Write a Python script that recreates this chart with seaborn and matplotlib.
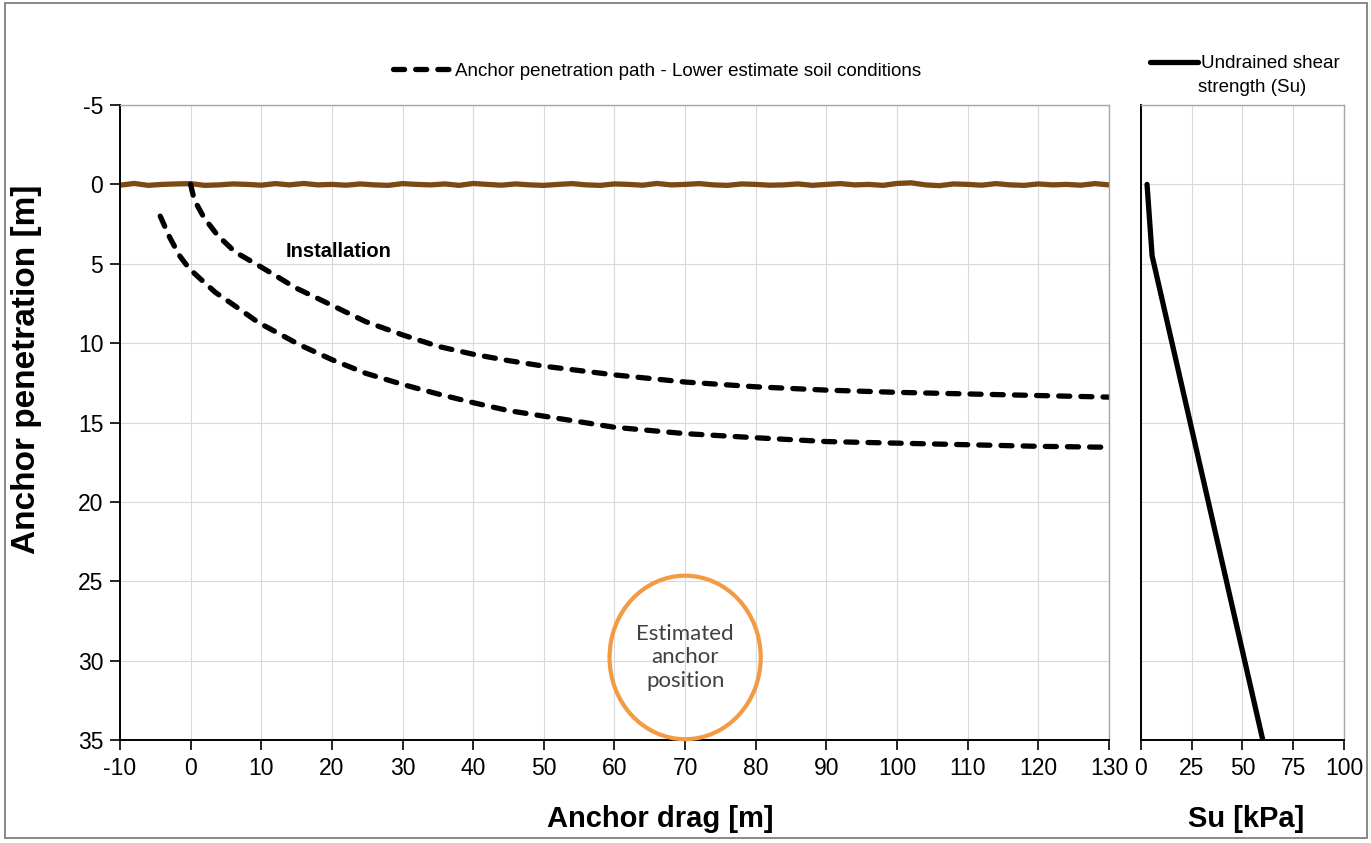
import numpy as np
import pandas as pd
import matplotlib
matplotlib.use("Agg")
import matplotlib.pyplot as plt
from matplotlib.patches import Ellipse, Rectangle
from matplotlib.lines import Line2D
import seaborn as sns

# anchor penetration path (upper curve)
path1_drag = [0, 0.5, 1.9, 3.8, 6.3, 9.2, 12, 14.8, 19, 24.8, 30, 35, 40, 45, 50,
              60, 70, 80, 90, 100, 110, 120, 130]
path1_depth = [0, 0.96, 2.1, 3.2, 4.26, 5.0, 5.74, 6.5, 7.4, 8.65, 9.48, 10.2, 10.7, 11.1, 11.45,
               12.0, 12.45, 12.75, 12.96, 13.1, 13.2, 13.3, 13.4]

# anchor penetration path (lower curve)
path2_drag = [-4.3, -3, -1.6, -0.2, 1.4, 3.5, 6.3, 9.6, 15.4, 20, 24.8, 30, 35, 40, 45, 50,
              60, 70, 80, 90, 100, 110, 120, 130]
path2_depth = [2.0, 3.3, 4.47, 5.3, 5.96, 6.8, 7.66, 8.7, 10.1, 11.04, 11.9, 12.6, 13.2, 13.75, 14.25, 14.6,
               15.3, 15.7, 15.96, 16.2, 16.3, 16.4, 16.5, 16.56]

# seabed line (wavy, around 0 m)
seabed_drag = list(range(-10, 131, 2))
seabed_depth = [0.05, -0.06, 0.06, 0.0, -0.03, -0.05, 0.06, 0.03, -0.03, 0.0, 0.05, -0.05, 0.03,
                -0.06, 0.03, 0.0, 0.05, -0.03, 0.03, 0.06, -0.05, 0.0, 0.03, -0.03, 0.06, -0.06,
                0.0, 0.05, -0.03, 0.03, 0.06, 0.0, -0.05, 0.03, 0.06, -0.03, 0.0, 0.05, -0.06,
                0.03, 0.0, -0.05, 0.03, 0.06, -0.03, 0.0, 0.05, 0.03, -0.03, 0.06, 0.0, -0.05,
                0.03, 0.0, 0.06, -0.06, -0.1, 0.03, 0.08, -0.03, 0.0, 0.05, -0.05, 0.03, 0.06,
                -0.03, 0.03, 0.0, 0.05, -0.05, 0.03]

# undrained shear strength profile
su_kpa = [3, 5.5, 60]
su_depth = [0, 4.5, 35]

drag_ticks = list(range(-10, 131, 10))
depth_ticks = list(range(-5, 36, 5))
su_ticks = [0, 25, 50, 75, 100]

sns.set_style("whitegrid", {"grid.color": "#D9D9D9", "axes.edgecolor": "#A6A6A6",
                            "text.color": "black", "axes.labelcolor": "black",
                            "xtick.color": "black", "ytick.color": "black"})
plt.rcParams["font.family"] = ["Liberation Sans", "DejaVu Sans"]
plt.rcParams["axes.unicode_minus"] = False

fig = plt.figure(figsize=(13.71, 8.43), dpi=100)
ax = fig.add_axes([0.0875, 0.1222, 0.7214, 0.7532])
ax2 = fig.add_axes([0.8322, 0.1222, 0.1481, 0.7532])

dash = (2.1, 2.1)
sns.lineplot(x=seabed_drag, y=seabed_depth, ax=ax, color="#7B4A14", lw=3.8, sort=False)
sns.lineplot(x=path1_drag, y=path1_depth, ax=ax, color="black", lw=3.8, sort=False)
sns.lineplot(x=path2_drag, y=path2_depth, ax=ax, color="black", lw=3.8, sort=False)
for ln in ax.lines[1:]:
    ln.set_dashes(dash)
    ln.set_dash_capstyle("round")
ax.lines[0].set_solid_joinstyle("round")

ax.set(xlim=(-10, 130), ylim=(35, -5), xticks=drag_ticks, yticks=depth_ticks)
ax.tick_params(direction="out", length=7, width=1.2, color="black", labelsize=16.5, pad=5,
               bottom=True, left=True)
for s in ("top", "right"):
    ax.spines[s].set_color("#A6A6A6")
    ax.spines[s].set_linewidth(1.0)
for s in ("left", "bottom"):
    ax.spines[s].set_color("black")
    ax.spines[s].set_linewidth(1.4)

ax.set_xlabel("Anchor drag [m]", fontsize=21, fontweight="bold")
ax.xaxis.set_label_coords(0.546, -0.103)
ax.set_ylabel("Anchor penetration [m]", fontsize=24, fontweight="bold")
ax.yaxis.set_label_coords(-0.079, 0.583)

ax.text(13.4, 4.2, "Installation", fontsize=14.5, fontweight="bold", ha="left", va="center")

ax.add_patch(Ellipse((70, 29.8), width=21.4, height=10.3, fill=False,
                     edgecolor="#F39A43", lw=3, clip_on=False, zorder=5))
ax.text(70, 29.8, "Estimated\nanchor\nposition", family=["Lato", "DejaVu Sans"], fontsize=16,
        color="#404040", ha="center", va="center", linespacing=1.2)

h1 = Line2D([], [], color="black", lw=3.8, dashes=dash, dash_capstyle="round")
ax.legend(handles=[h1], labels=["Anchor penetration path - Lower estimate soil conditions"],
          loc="center", bbox_to_anchor=(0.543, 1.053), frameon=False, fontsize=13.5,
          handlelength=3.0, handletextpad=0.3)

# Su panel
sns.lineplot(x=su_kpa, y=su_depth, ax=ax2, color="black", lw=3.8, sort=False)
ax2.set(xlim=(0, 100), ylim=(35, -5), xticks=su_ticks, yticks=depth_ticks)
ax2.set_yticklabels([])
ax2.tick_params(axis="x", direction="out", length=7, width=1.2, color="black", labelsize=16.5,
                pad=5, bottom=True)
ax2.tick_params(axis="y", length=0)
for s in ("top", "right"):
    ax2.spines[s].set_color("#A6A6A6")
    ax2.spines[s].set_linewidth(1.0)
for s in ("left", "bottom"):
    ax2.spines[s].set_color("black")
    ax2.spines[s].set_linewidth(1.4)
ax2.set_xlabel("Su [kPa]", fontsize=21, fontweight="bold")
ax2.xaxis.set_label_coords(0.52, -0.103)

ax2.legend(handles=[Line2D([], [], color="black", lw=3.8)], labels=["Undrained shear"],
           loc="center left", bbox_to_anchor=(-0.04, 1.065), frameon=False, fontsize=13.5,
           handlelength=2.6, handletextpad=0.15)
ax2.text(0.28, 1.028, "strength (Su)", transform=ax2.transAxes, fontsize=13.5,
         ha="left", va="center")

fig.patches.append(Rectangle((0.004, 0.006), 0.993, 0.99, transform=fig.transFigure,
                             fill=False, edgecolor="#7F7F7F", lw=1.3))
fig.patch.set_facecolor("white")
fig.savefig("out.png", dpi=100)
